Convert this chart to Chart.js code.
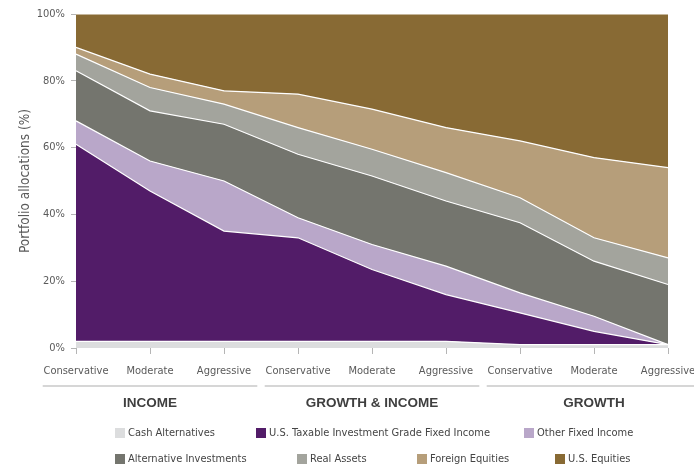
<!DOCTYPE html>
<html>
<head>
<meta charset="utf-8">
<title>Portfolio allocations</title>
<script src="https://cdn.jsdelivr.net/npm/chart.js@4.4.1/dist/chart.umd.min.js"></script>
<style>
  html, body { margin: 0; padding: 0; background: #fff; }
  canvas { display: block; }
</style>
</head>
<body>
<canvas id="chart" width="694" height="465"></canvas>
<script>
// Risk profiles along the x axis, three per objective group
const categories = ['Conservative', 'Moderate', 'Aggressive',
                    'Conservative', 'Moderate', 'Aggressive',
                    'Conservative', 'Moderate', 'Aggressive'];
const groupNames = ['INCOME', 'GROWTH & INCOME', 'GROWTH'];
const groupSize = 3;

// Allocation (%) per asset class, bottom of the stack first
const seriesNames = ['Cash Alternatives', 'U.S. Taxable Investment Grade Fixed Income', 'Other Fixed Income',
                     'Alternative Investments', 'Real Assets', 'Foreign Equities', 'U.S. Equities'];
const cashAlternatives = [2, 2, 2, 2, 2, 2, 1, 1, 1];
const usTaxableFixedIncome = [59, 45, 33, 31, 21.5, 14, 9.5, 4, 0];
const otherFixedIncome = [7, 9, 15, 6, 7.5, 8.5, 6, 4.5, 0];
const alternativeInvestments = [15, 15, 17, 19, 20.5, 19.5, 21, 16.5, 18];
const realAssets = [5, 7, 6, 8, 8, 8.5, 7.5, 7, 8];
const foreignEquities = [2, 4, 4, 10, 12, 13.5, 17, 24, 27];
const usEquities = [10, 18, 23, 24, 28.5, 34, 38, 43, 46];

const seriesValues = [cashAlternatives, usTaxableFixedIncome, otherFixedIncome,
                      alternativeInvestments, realAssets, foreignEquities, usEquities];
const seriesColors = ['#dcddde', '#521c68', '#b9a7c9', '#74756e', '#a3a49d', '#b69e7a', '#886a34'];

const FONT = "'DejaVu Sans Condensed', 'DejaVu Sans', sans-serif";
const TEXT = '#5a5a5a';

// Legend rows (dataset indices) and the left edge of each swatch
const legendRows = [[0, 1, 2], [3, 4, 5, 6]];
const legendX = [[115, 256, 524], [115, 297, 417, 555]];
const legendY = [433, 459];

const groupLabels = {
  id: 'groupLabels',
  afterDraw(chart) {
    const { ctx } = chart;
    const xs = chart.scales.x;
    const step = xs.getPixelForValue(1) - xs.getPixelForValue(0);
    ctx.save();
    groupNames.forEach((name, g) => {
      const first = xs.getPixelForValue(g * groupSize);
      const last = xs.getPixelForValue(g * groupSize + groupSize - 1);
      const mid = (first + last) / 2;
      const half = step * 1.45;
      ctx.strokeStyle = '#c8c8c8';
      ctx.lineWidth = 1.5;
      ctx.beginPath();
      ctx.moveTo(mid - half, xs.top + 38);
      ctx.lineTo(mid + half, xs.top + 38);
      ctx.stroke();
      ctx.fillStyle = '#3f3f3f';
      ctx.font = "bold 13.5px 'Liberation Sans', Arial, sans-serif";
      ctx.textAlign = 'center';
      ctx.textBaseline = 'middle';
      ctx.fillText(name, mid, xs.top + 55);
    });
    ctx.restore();
  }
};

const rowLegend = {
  id: 'rowLegend',
  afterDraw(chart) {
    const { ctx } = chart;
    ctx.save();
    ctx.font = '11px ' + FONT;
    ctx.textBaseline = 'middle';
    ctx.textAlign = 'left';
    legendRows.forEach((row, r) => {
      row.forEach((di, k) => {
        const ds = chart.data.datasets[di];
        const x = legendX[r][k];
        const y = legendY[r];
        ctx.fillStyle = ds.backgroundColor;
        ctx.fillRect(x, y - 5, 10, 10);
        ctx.fillStyle = '#444';
        ctx.fillText(ds.label, x + 13, y);
      });
    });
    ctx.restore();
  }
};

new Chart(document.getElementById('chart'), {
  type: 'line',
  data: {
    labels: categories,
    datasets: seriesValues.map((vals, i) => ({
      label: seriesNames[i],
      data: vals,
      backgroundColor: seriesColors[i],
      borderColor: '#ffffff',
      borderWidth: 1.2,
      pointRadius: 0,
      pointHoverRadius: 0,
      tension: 0,
      fill: i === 0 ? 'origin' : '-1'
    }))
  },
  options: {
    responsive: false,
    animation: false,
    events: [],
    layout: { padding: { top: 14, right: 26, left: 0, bottom: 0 } },
    plugins: {
      legend: { display: false },
      tooltip: { enabled: false },
      filler: { propagate: false }
    },
    scales: {
      x: {
        type: 'category',
        offset: false,
        border: { display: false },
        grid: { display: true, drawOnChartArea: false, drawTicks: true, tickLength: 6, color: '#b5b5b5' },
        ticks: { color: TEXT, font: { family: FONT, size: 11 }, padding: 11, maxRotation: 0, autoSkip: false },
        afterFit(s) { s.height = 117; s.paddingLeft = 0; s.paddingRight = 0; }
      },
      y: {
        stacked: true,
        min: 0,
        max: 100,
        border: { display: false },
        grid: { display: true, drawOnChartArea: false, drawTicks: true, tickLength: 5, color: '#b5b5b5' },
        ticks: { stepSize: 20, color: TEXT, font: { family: FONT, size: 11 }, padding: 6,
                 callback: v => v + '%' },
        title: { display: true, text: 'Portfolio allocations (%)', color: TEXT,
                 font: { family: FONT, size: 13.5 }, padding: { top: 17, bottom: 0 } },
        afterFit(s) { s.width = 76; }
      }
    }
  },
  plugins: [groupLabels, rowLegend]
});
</script>
</body>
</html>
